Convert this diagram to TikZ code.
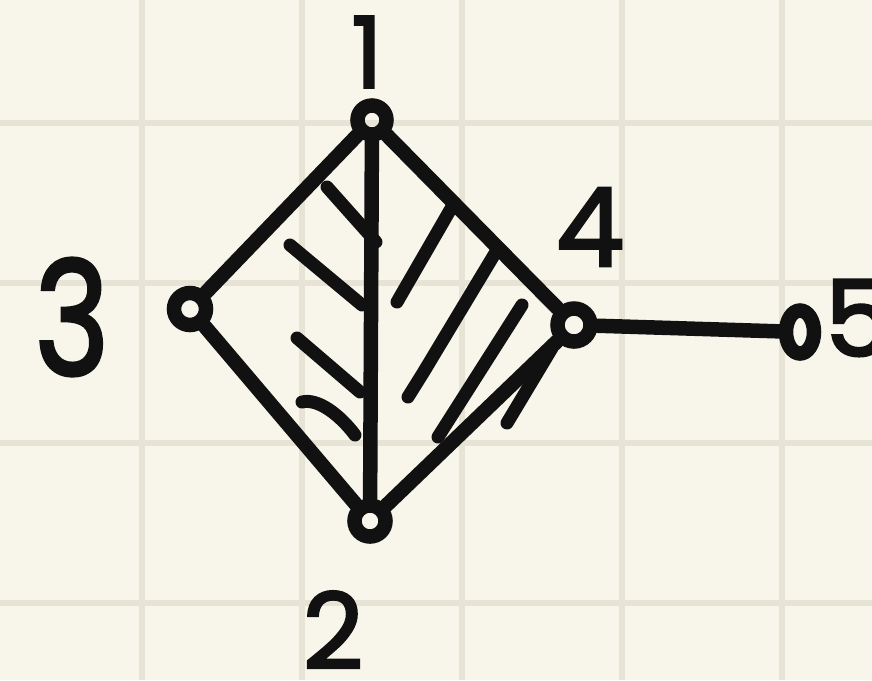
\documentclass[tikz,border=0pt]{standalone}
\usepackage{fontspec}
\setmainfont{Poppins}
\newfontfamily\handfont[FakeBold=2.4]{Poppins}
\usetikzlibrary{shapes.geometric}

\definecolor{paper}{HTML}{F8F6EB}
\definecolor{gridc}{HTML}{E7E4D5}
\definecolor{ink}{HTML}{111111}

\tikzset{
  vertex/.style={circle, draw=ink, line width=2.9mm, minimum size=5.8mm, inner sep=0pt},
  edge/.style={draw=ink, line width=2.9mm, line cap=round},
  hatch/.style={draw=ink, line width=2.6mm, line cap=round},
  gridline/.style={draw=gridc, line width=1.2mm},
  lbl/.style={text=ink, inner sep=0pt, font=\fontsize{#1}{#1}\handfont},
  lbl/.default=56,
}

\begin{document}
\begin{tikzpicture}[x=0.2mm, y=-0.2mm]
    % paper and grid
    \useasboundingbox (0,0) rectangle (872,680);
    \clip (0,0) rectangle (872,680);
    \fill[paper] (0,0) rectangle (872,680);
    \foreach \gx in {142,302,462,622,782}
        \draw[gridline] (\gx,0) -- (\gx,680);
    \foreach \gy in {123,283,443,603}
        \draw[gridline] (0,\gy) -- (872,\gy);

    % vertices
    \node[vertex] (v1) at (372,120) {};
    \node[vertex, minimum size=6.4mm] (v3) at (190,309) {};
    \node[vertex, minimum size=6.6mm] (v4) at (574,325) {};
    \node[vertex, minimum size=6.2mm] (v2) at (370,521) {};
    \node[vertex, ellipse, minimum width=5.6mm, minimum height=8.6mm] (v5) at (800,332) {};

    % labels
    \node[lbl] (l1) at (367,52) {1};
    \node[lbl=90, xscale=0.8] (l3) at (72,317) {3};
    \node[lbl=62] (l4) at (590,227) {4};
    \node[lbl=60] (l2) at (333,630) {2};
    \node[lbl=60] (l5) at (858,318) {5};

    % edges
    \draw[edge] (v1) -- (v3);
    \draw[edge] (v1) -- (v2);
    \draw[edge] (v1) -- (v4);
    \draw[edge] (v3) -- (v2);
    \draw[edge] (v2) -- (v4);
    \draw[edge] (v4) -- (v5);

    % hatching, left face
    \draw[hatch] (327,187) -- (376,242);
    \draw[hatch] (290,245) -- (362,305);
    \draw[hatch] (297,338) -- (360,392);
    \draw[hatch] (302,402) .. controls (318,398) and (340,415) .. (355,435);

    % hatching, right face
    \draw[hatch] (453,205) -- (397,302);
    \draw[hatch] (497,250) -- (423,373) .. controls (415,385) .. (408,397);
    \draw[hatch] (522,305) -- (438,437);
    \draw[hatch] (552,348) -- (507,423);
\end{tikzpicture}
\end{document}
